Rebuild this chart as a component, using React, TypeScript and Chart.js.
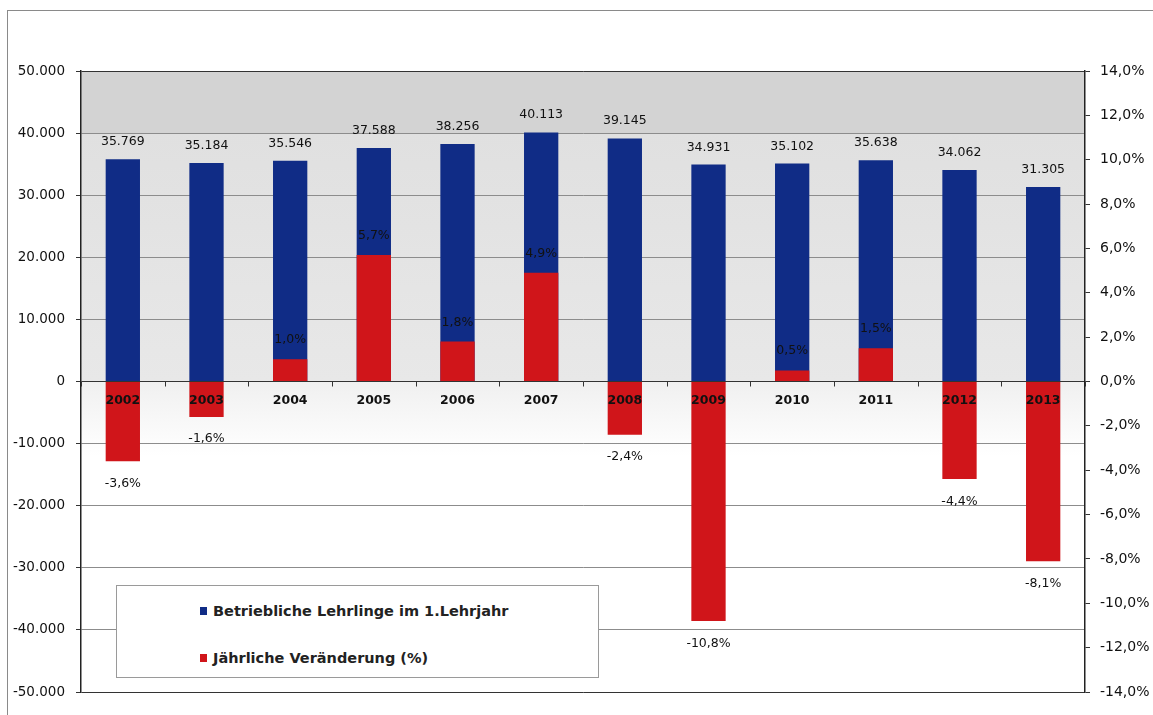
import React, { useEffect, useRef } from "react";
import { Chart, registerables } from "chart.js";

Chart.register(...registerables);

const years = ["2002", "2003", "2004", "2005", "2006", "2007", "2008", "2009", "2010", "2011", "2012", "2013"];
const lehrlinge = [35769, 35184, 35546, 37588, 38256, 40113, 39145, 34931, 35102, 35638, 34062, 31305];
const veraenderung = [-3.6, -1.6, 1.0, 5.7, 1.8, 4.9, -2.4, -10.8, 0.5, 1.5, -4.4, -8.1];
const seriesNames = ["Betriebliche Lehrlinge im 1.Lehrjahr", "Jährliche Veränderung (%)"];

const BLUE = "#102c86";
const RED = "#d0151a";
const FONT = "'DejaVu Sans', Arial, sans-serif";

const fmtThousands = (v: number) => {
  const s = String(Math.abs(Math.round(v))).replace(/\B(?=(\d{3})+(?!\d))/g, ".");
  return (v < 0 ? "-" : "") + s;
};
const fmtPct = (v: number) => v.toFixed(1).replace(".", ",") + "%";

const bgPlugin = {
  id: "bgBands",
  beforeDraw(chart: any) {
    const { ctx, chartArea, scales } = chart;
    const y = scales.y;
    ctx.save();
    ctx.fillStyle = "#ffffff";
    ctx.fillRect(0, 0, chart.width, chart.height);
    const l = chartArea.left, w = chartArea.right - chartArea.left;
    const p50 = y.getPixelForValue(50000);
    const p40 = y.getPixelForValue(40000);
    const p0 = y.getPixelForValue(0);
    const pLow = y.getPixelForValue(-12000);
    ctx.fillStyle = "#d3d3d3";
    ctx.fillRect(l, p50, w, p40 - p50);
    const g = ctx.createLinearGradient(0, p40, 0, p0);
    g.addColorStop(0, "#e0e0e0");
    g.addColorStop(1, "#e8e8e8");
    ctx.fillStyle = g;
    ctx.fillRect(l, p40, w, p0 - p40);
    const g2 = ctx.createLinearGradient(0, p0, 0, pLow);
    g2.addColorStop(0, "#f0f0f0");
    g2.addColorStop(1, "#ffffff");
    ctx.fillStyle = g2;
    ctx.fillRect(l, p0, w, pLow - p0);
    ctx.restore();
  },
};

const labelPlugin = {
  id: "valueLabels",
  afterDatasetsDraw(chart: any) {
    const { ctx, scales } = chart;
    const x = scales.x;
    const y = scales.y;
    const y1 = scales.y1;
    ctx.save();
    ctx.textAlign = "center";
    ctx.fillStyle = "#111";
    ctx.font = `12.5px ${FONT}`;
    ctx.textBaseline = "alphabetic";
    lehrlinge.forEach((v, i) => {
      const px = x.getPixelForValue(i);
      const py = y.getPixelForValue(v);
      ctx.fillText(fmtThousands(v), px, py - 14);
    });
    ctx.font = `12.5px ${FONT}`;
    veraenderung.forEach((v, i) => {
      const px = x.getPixelForValue(i);
      const py = y1.getPixelForValue(v);
      if (v >= 0) {
        ctx.textBaseline = "alphabetic";
        ctx.fillText(fmtPct(v), px, py - 16);
      } else {
        ctx.textBaseline = "top";
        ctx.fillText(fmtPct(v), px, py + 16);
      }
    });
    const p0 = y.getPixelForValue(0);
    ctx.font = `bold 12.5px ${FONT}`;
    ctx.textBaseline = "middle";
    years.forEach((yr, i) => {
      ctx.fillText(yr, x.getPixelForValue(i), p0 + 19);
    });
    ctx.strokeStyle = "#333";
    ctx.lineWidth = 1;
    const step = x.getPixelForValue(1) - x.getPixelForValue(0);
    for (let i = 0; i <= years.length; i++) {
      const bx = Math.round(x.getPixelForValue(0) - step / 2 + i * step) + 0.5;
      ctx.beginPath();
      ctx.moveTo(bx, p0);
      ctx.lineTo(bx, p0 + 5);
      ctx.stroke();
    }
    ctx.restore();
  },
};

export default function App() {
  const ref = useRef<HTMLCanvasElement | null>(null);

  useEffect(() => {
    if (!ref.current) return;
    const chart = new Chart(ref.current, {
      type: "bar",
      data: {
        labels: years,
        datasets: [
          {
            label: seriesNames[0],
            data: lehrlinge,
            backgroundColor: BLUE,
            yAxisID: "y",
            order: 1,
            grouped: false,
            barPercentage: 0.41,
            categoryPercentage: 1,
          } as any,
          {
            label: seriesNames[1],
            data: veraenderung,
            backgroundColor: RED,
            yAxisID: "y1",
            order: 0,
            grouped: false,
            barPercentage: 0.41,
            categoryPercentage: 1,
          } as any,
        ],
      },
      options: {
        responsive: false,
        animation: false,
        devicePixelRatio: 1,
        layout: { padding: { top: 71, bottom: 23, left: 0, right: 0 } },
        plugins: { legend: { display: false }, tooltip: { enabled: false } },
        scales: {
          x: { type: "category", display: false, offset: true, grid: { offset: true } },
          y: {
            position: "left",
            min: -50000,
            max: 50000,
            ticks: {
              stepSize: 10000,
              callback: (v: any) => fmtThousands(Number(v)),
              font: { family: FONT, size: 13.5 },
              color: "#111",
              padding: 11,
            },
            grid: {
              color: (c: any) => {
                const v = c.tick ? c.tick.value : null;
                if (v === 0 || v === 50000 || v === -50000) return "#333";
                return "#8c8c8c";
              },
              tickColor: "#333",
              tickLength: 5,
              lineWidth: 1,
            },
            border: { color: "#222", width: 1.5 },
            afterFit: (s: any) => { s.width = 81; },
          },
          y1: {
            position: "right",
            min: -14,
            max: 14,
            ticks: {
              stepSize: 2,
              callback: (v: any) => fmtPct(Number(v)),
              font: { family: FONT, size: 14 },
              color: "#111",
              padding: 10,
            },
            grid: { drawOnChartArea: false, tickColor: "#333", tickLength: 5 },
            border: { color: "#222", width: 1.5 },
            afterFit: (s: any) => { s.width = 68; },
          },
        },
      },
      plugins: [bgPlugin, labelPlugin],
    });
    return () => chart.destroy();
  }, []);

  const legendItem = (color: string, text: string, top: number) => (
    <div style={{ position: "absolute", left: 200, top, display: "flex", alignItems: "center", height: 20 }}>
      <span style={{ display: "inline-block", width: 7, height: 8, background: color, marginRight: 6 }} />
      <span style={{ fontFamily: FONT, fontWeight: "bold", fontSize: 14.5, color: "#222", whiteSpace: "nowrap" }}>{text}</span>
    </div>
  );

  return (
    <div style={{ position: "absolute", left: 0, top: 0, width: 1153, height: 715, background: "#fff", overflow: "hidden" }}>
      <canvas ref={ref} width={1153} height={715} style={{ position: "absolute", left: 0, top: 0 }} />
      <div style={{ position: "absolute", left: 7, top: 10, width: 1146, height: 705, borderTop: "1.5px solid #8a8a8a", borderLeft: "1.5px solid #8a8a8a", boxSizing: "border-box" }} />
      <div style={{ position: "absolute", left: 116, top: 585, width: 483, height: 93, border: "1px solid #9a9a9a", background: "#fff", boxSizing: "border-box" }} />
      {legendItem(BLUE, seriesNames[0], 601)}
      {legendItem(RED, seriesNames[1], 648)}
    </div>
  );
}
